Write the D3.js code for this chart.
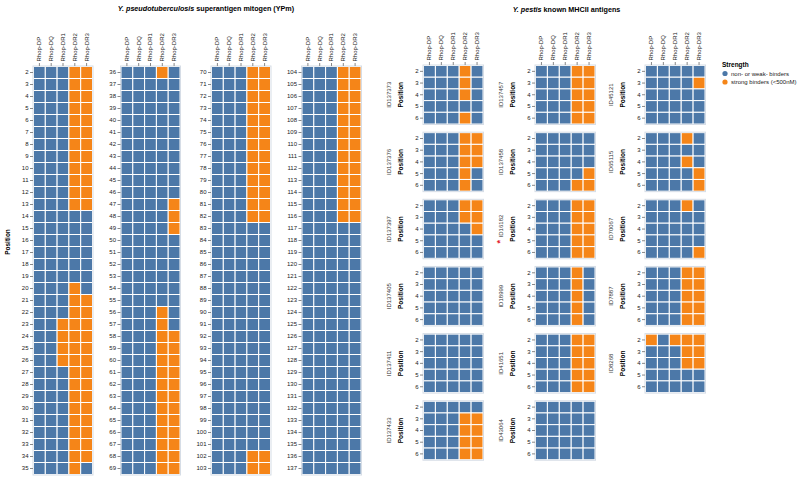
<!DOCTYPE html>
<html><head><meta charset="utf-8">
<script src="https://cdn.jsdelivr.net/npm/d3@7"></script>
<style>body{margin:0;background:#fff}text{font-family:"Liberation Sans",Arial,sans-serif}</style>
</head><body>
<svg id="c" width="800" height="479"></svg>
<script>
// ---------- data ----------
const alleles = ["Rhop-DP","Rhop-DQ","Rhop-DR1","Rhop-DR2","Rhop-DR3"];
const strengthLabels = ["non- or weak- binders","strong binders (<500nM)"];
const legendTitle = "Strength";

// YPm positions, split into the four column blocks
const ypmPositions1 = [2,3,4,5,6,7,8,9,10,11,12,13,14,15,16,17,18,19,20,21,22,23,24,25,26,27,28,29,30,31,32,33,34,35];
const ypmPositions2 = [36,37,38,39,40,41,42,43,44,45,46,47,48,49,50,51,52,53,54,55,56,57,58,59,60,61,62,63,64,65,66,67,68,69];
const ypmPositions3 = [70,71,72,73,74,75,76,77,78,79,80,81,82,83,84,85,86,87,88,89,90,91,92,93,94,95,96,97,98,99,100,101,102,103];
const ypmPositions4 = [104,105,106,107,108,109,110,111,112,113,114,115,116,117,118,119,120,121,122,123,124,125,126,127,128,129,130,131,132,133,134,135,136,137];
// per position: 5 flags (DP,DQ,DR1,DR2,DR3), 1 = strong binder
const ypmCodes1 = ["00011","00011","00011","00011","00011","00011","00011","00011","00011","00011","00011","00011",
  "00000","00000","00000","00000","00000","00000","00010","00011","00011","00111","00111","00111","00111",
  "00011","00011","00011","00011","00011","00011","00011","00011","00010"];
const ypmCodes2 = ["00010","00000","00000","00000","00000","00000","00000","00000","00000","00000","00000",
  "00001","00001","00001","00000","00000","00000","00000","00000","00000","00010","00010",
  "00011","00011","00011","00011","00011","00011","00011","00011","00011","00011","00011","00011"];
const ypmCodes3 = ["00011","00011","00011","00011","00011","00011","00011","00011","00011","00011","00011","00011","00011",
  "00000","00000","00000","00000","00000","00000","00000","00000","00000","00000","00000","00000","00000","00000","00000","00000","00000","00000","00000",
  "00011","00011"];
const ypmCodes4 = ["00011","00011","00011","00011","00011","00011","00011","00011","00011","00011","00011","00011","00011",
  "00000","00000","00000","00000","00000","00000","00000","00000","00000","00000","00000","00000","00000","00000","00000","00000","00000","00000","00000","00000","00000"];

// Y. pestis antigens
const antigenIds = ["ID137373","ID137376","ID137397","ID137405","ID137411","ID137433",
  "ID137457","ID137458","ID16182","ID18999","ID41651","ID43064",
  "ID45121","ID65115","ID70067","ID7887","ID8268"];
const antigenFlagged = ["ID16182"];
const antigenPositions = [2,3,4,5,6];
const antigenCodes = [
  ["00010","00010","00010","00000","00010"],
  ["00011","00011","00011","00010","00010"],
  ["00011","00011","00001","00000","00000"],
  ["00000","00000","00000","00000","00000"],
  ["00000","00000","00000","00000","00000"],
  ["00000","00011","00011","00011","00011"],
  ["00011","00011","00011","00011","00011"],
  ["00000","00000","00000","00001","00011"],
  ["00011","00011","00011","00011","00011"],
  ["00010","00010","00010","00010","00010"],
  ["00011","00011","00011","00011","00011"],
  ["00000","00000","00000","00000","00000"],
  ["00000","00001","00000","00000","00000"],
  ["00010","00000","00010","00001","00001"],
  ["00010","00000","00000","00000","00001"],
  ["00011","00011","00011","00011","00011"],
  ["10111","00011","00011","00000","00000"]
];

// ---------- drawing ----------
const svg = d3.select("#c");
const color = d3.scaleOrdinal().domain([0,1]).range(["#4c78a8","#f58518"]);
const LBL = 6, TTL = 6.5;

function heatmap(x0, y0, w, h, positions, codes, showTop) {
  const x = d3.scaleBand().domain(alleles).range([x0, x0 + w]);
  const y = d3.scaleBand().domain(positions).range([y0, y0 + h]);
  const g = svg.append("g");
  const cells = [];
  positions.forEach((p, i) => alleles.forEach((a, j) => cells.push({p, a, v: +codes[i][j]})));
  g.selectAll("rect.cell").data(cells).join("rect").attr("class","cell")
    .attr("x", d => x(d.a)).attr("y", d => y(d.p))
    .attr("width", x.bandwidth()).attr("height", y.bandwidth())
    .attr("fill", d => color(d.v)).attr("stroke", "#fff").attr("stroke-width", 1);
  g.append("rect").attr("x", x0 - 0.5).attr("y", y0 - 0.5).attr("width", w + 1).attr("height", h + 1)
    .attr("fill","none").attr("stroke","#d6dde6").attr("stroke-width",1);
  const ya = g.append("g").attr("transform", `translate(${x0 - 0.5},0)`)
    .call(d3.axisLeft(y).tickSize(3).tickPadding(1.5));
  ya.select(".domain").remove();
  ya.selectAll("line").attr("stroke","#888");
  ya.selectAll("text").attr("font-size", LBL).attr("fill","#222").style("font-family",'"Liberation Sans",Arial,sans-serif');
  if (showTop) {
    const xa = g.append("g").attr("transform", `translate(0,${y0 - 0.5})`)
      .call(d3.axisTop(x).tickSize(3).tickPadding(1.5));
    xa.select(".domain").remove();
    xa.selectAll("line").attr("stroke","#888");
    xa.selectAll("text").attr("font-size", LBL).attr("fill","#222")
      .style("font-family",'"Liberation Sans",Arial,sans-serif')
      .attr("transform","rotate(-90)").attr("x", 4.5).attr("y", 0).attr("dy","0.32em")
      .style("text-anchor","start");
  }
  return g;
}

// YPm blocks
const ypmTop = 66.5, ypmH = 408, ypmW = 59;
const ypmX = [33.5, 121, 211.5, 302];
[[ypmPositions1, ypmCodes1],[ypmPositions2, ypmCodes2],[ypmPositions3, ypmCodes3],[ypmPositions4, ypmCodes4]]
  .forEach(([p, c], i) => heatmap(ypmX[i], ypmTop, ypmW, ypmH, p, c, true));

svg.append("text").attr("transform","translate(8,242) rotate(-90)").attr("text-anchor","middle")
  .attr("dy","0.35em").attr("font-size", TTL).attr("font-weight","bold").text("Position");

// Titles
const t1 = svg.append("text").attr("x", 206).attr("y", 11).attr("text-anchor","middle")
  .attr("font-size", 7.2).attr("font-weight","bold");
t1.append("tspan").attr("font-style","italic").text("Y. pseudotuberculosis");
t1.append("tspan").text(" superantigen mitogen (YPm)");
const t2 = svg.append("text").attr("x", 566.5).attr("y", 12).attr("text-anchor","middle")
  .attr("font-size", 7.2).attr("font-weight","bold");
t2.append("tspan").attr("font-style","italic").text("Y. pestis");
t2.append("tspan").text(" known MHCII antigens");

// antigen grid
const colX = [423.5, 535.5, 645.5];
const rowTop0 = 65.5, rowStep = 67.15, agW = 59.5, agH = 58.5;
antigenIds.forEach((id, k) => {
  const c = Math.floor(k / 6), r = k % 6;
  const x0 = colX[c], y0 = rowTop0 + r * rowStep;
  heatmap(x0, y0, agW, agH, antigenPositions, antigenCodes[k], r === 0);
  const cy = y0 + agH / 2;
  svg.append("text").attr("transform",`translate(${x0 - 23},${cy}) rotate(-90)`).attr("text-anchor","middle")
    .attr("dy","0.35em").attr("font-size", TTL).attr("font-weight","bold").text("Position");
  const lt = svg.append("text").attr("transform",`translate(${x0 - 35},${cy}) rotate(-90)`).attr("text-anchor","middle")
    .attr("dy","0.35em").attr("font-size", LBL).attr("fill","#333");
  if (antigenFlagged.includes(id)) lt.append("tspan").attr("fill","#e4232a").attr("font-size", 9).attr("font-weight","bold").text("* ");
  lt.append("tspan").text(id);
});

// legend
const lg = svg.append("g").attr("transform","translate(722,0)");
lg.append("text").attr("x",0).attr("y",67).attr("font-size",TTL).attr("font-weight","bold").text(legendTitle);
strengthLabels.forEach((s, i) => {
  lg.append("circle").attr("cx", 3).attr("cy", 73.5 + i * 8.5).attr("r", 2.6).attr("fill", color(i));
  lg.append("text").attr("x", 9).attr("y", 73.5 + i * 8.5).attr("dy","0.35em").attr("font-size", LBL).attr("fill","#222").text(s);
});
</script>
</body></html>
